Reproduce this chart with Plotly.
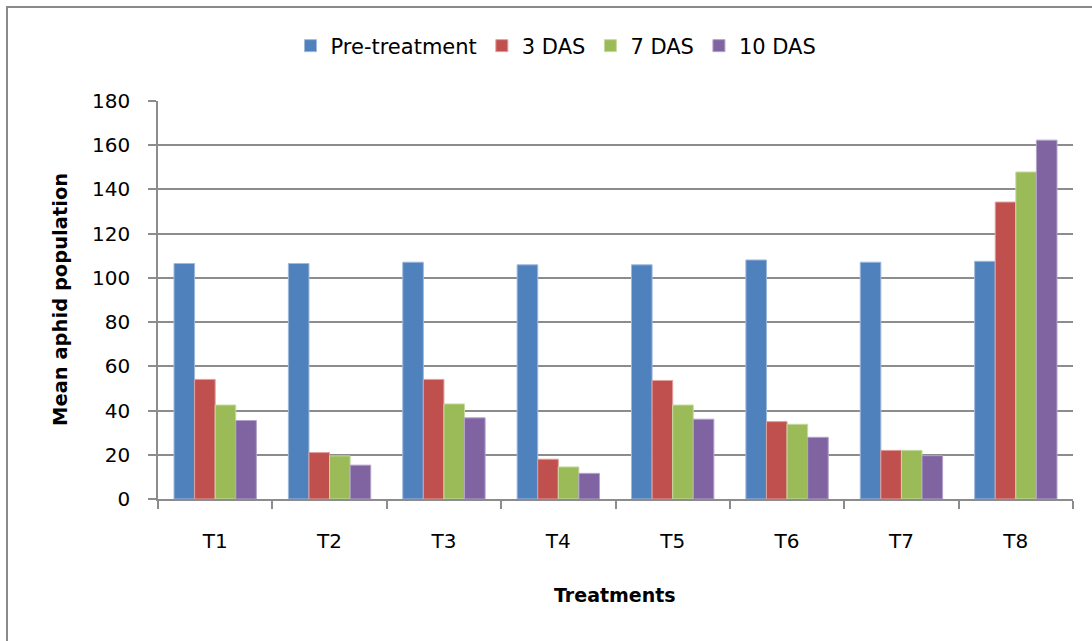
import plotly.graph_objects as go

categories = ["T1", "T2", "T3", "T4", "T5", "T6", "T7", "T8"]
pre_treatment = [106.5, 106.5, 107.1, 105.9, 105.9, 108.1, 107.1, 107.5]
das3 = [54.1, 21.0, 54.1, 18.0, 53.6, 35.0, 22.0, 134.3]
das7 = [42.5, 19.5, 43.0, 14.5, 42.5, 33.8, 22.0, 147.9]
das10 = [35.5, 15.3, 36.7, 11.6, 36.1, 27.9, 19.6, 162.3]
series_names = ["Pre-treatment", "3 DAS", "7 DAS", "10 DAS"]
y_ticks = [0, 20, 40, 60, 80, 100, 120, 140, 160, 180]

colors = ["#4F81BD", "#C0504D", "#9BBB59", "#8064A2"]
edge_colors = ["#9fb8dc", "#e0a09e", "#c6dba0", "#b3a2c9"]

W, H = 1092, 641
L, R, T, B = 158, 1073, 101, 499
pw, ph = R - L, B - T

fig = go.Figure()
for name, vals, c, ec in zip(series_names, [pre_treatment, das3, das7, das10], colors, edge_colors):
    fig.add_trace(go.Bar(x=categories, y=vals, name=name,
                         marker=dict(color=c, line=dict(color=ec, width=1))))

def px_x(p):
    return (p - L) / pw

def px_y(p):
    return (B - p) / ph

grey = "#8c8c8c"
fig.update_layout(
    width=W, height=H,
    margin=dict(l=L, r=W - R, t=T, b=H - B, pad=0),
    paper_bgcolor="white", plot_bgcolor="white",
    barmode="group", bargap=0.28, bargroupgap=0,
    font=dict(family="DejaVu Sans", color="#000000"),
    showlegend=True,
    legend=dict(orientation="h", x=px_x(556), xanchor="center", y=px_y(46), yanchor="middle",
                font=dict(family="DejaVu Sans", size=21), traceorder="normal",
                bgcolor="rgba(0,0,0,0)"),
    xaxis=dict(showgrid=False, showline=True, linecolor=grey, linewidth=1.5,
               ticks="outside", tickson="boundaries", ticklen=8, tickcolor=grey, tickwidth=1.5,
               tickfont=dict(family="DejaVu Sans", size=20), ticklabelstandoff=23),
    yaxis=dict(range=[0, 180], tickvals=y_ticks, showgrid=True, gridcolor=grey, gridwidth=1.5,
               showline=True, linecolor=grey, linewidth=1.5, zeroline=False,
               ticks="outside", ticklen=8, tickcolor=grey, tickwidth=1.5,
               tickfont=dict(family="DejaVu Sans", size=20), ticklabelstandoff=14),
    annotations=[
        dict(text="<b>Mean aphid population</b>", xref="paper", yref="paper",
             x=px_x(60), y=px_y(300), textangle=-90, showarrow=False,
             font=dict(family="DejaVu Sans", size=19.5), xanchor="center", yanchor="middle"),
        dict(text="<b>Treatments</b>", xref="paper", yref="paper",
             x=px_x(615), y=px_y(595), showarrow=False,
             font=dict(family="DejaVu Sans", size=19), xanchor="center", yanchor="middle"),
    ],
    shapes=[
        dict(type="rect", xref="paper", yref="paper",
             x0=px_x(7), x1=px_x(1110), y0=px_y(7), y1=px_y(660),
             line=dict(color="#8a8a8a", width=2), layer="below"),
    ],
)

fig.write_html("out.html", config={"displayModeBar": False},
               post_script="document.body.style.margin='0';document.body.style.overflow='hidden';")
